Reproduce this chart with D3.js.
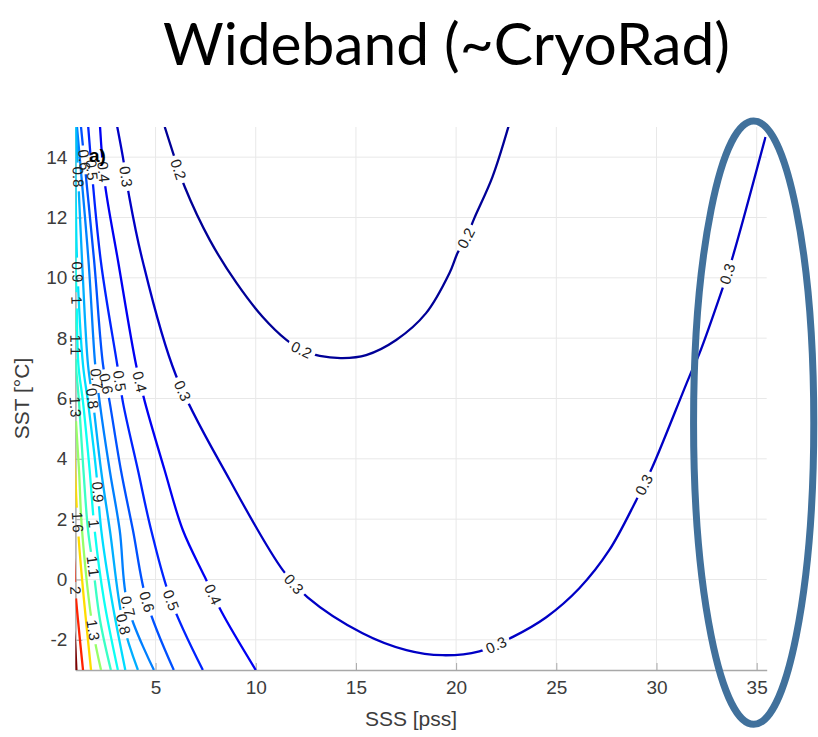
<!DOCTYPE html>
<html><head><meta charset="utf-8">
<script src="https://cdn.jsdelivr.net/npm/d3@7"></script>
<style>html,body{margin:0;padding:0;background:#fff;} svg{display:block;}</style>
</head><body>
<svg id="chart" width="818" height="737"></svg>
<script>
// ---------------- data ----------------
const chartTitle = "Wideband (~CryoRad)";
const xTitle = "SSS [pss]";
const yTitle = "SST [°C]";
const panelTag = "a)";
const xTicks = [5, 10, 15, 20, 25, 30, 35];
const yTicks = [-2, 0, 2, 4, 6, 8, 10, 12, 14];
const sssDomain = [1, 35.5];
const sstDomain = [-3, 15];

// contour polylines: [SSS, SST] pairs
const contour_0_2 = [[5.46,15.0],[5.86,14.17],[6.46,13.01],[7.71,11.25],[9.04,9.83],[10.35,8.70],[11.53,7.94],[12.28,7.61],[13.19,7.41],[14.33,7.34],[15.51,7.44],[17.01,7.94],[18.50,8.83],[19.67,10.16],[20.07,10.82],[20.50,11.32],[20.91,11.98],[21.81,13.34],[22.65,15.1]];
const contour_0_3 = [[3.07,15.07],[3.37,14.0],[3.67,12.75],[4.32,10.66],[6.01,6.78],[8.71,3.29],[11.35,0.31],[12.59,-0.59],[15.33,-1.78],[17.52,-2.34],[19.32,-2.51],[21.16,-2.38],[22.81,-1.91],[24.50,-1.25],[26.15,-0.29],[27.64,0.97],[28.99,2.63],[29.79,3.72],[31.63,6.71],[32.13,7.47],[33.22,9.50],[33.77,10.62],[35.44,14.67]];
const contour_0_4 = [[2.23,15.0],[2.46,13.18],[3.12,10.59],[4.03,7.11],[4.47,5.88],[5.45,3.63],[6.36,1.64],[7.46,0.08],[8.30,-1.08],[10.0,-3.0]];
const contour_0_5 = [[1.64,15.0],[2.26,10.6],[3.09,7.11],[3.37,5.88],[4.12,3.63],[4.78,1.64],[5.77,-0.69],[7.36,-3.0]];
const contour_0_6 = [[1.28,15.0],[1.93,10.6],[2.38,7.11],[2.71,5.88],[3.27,3.63],[3.87,1.64],[4.57,-0.75],[5.91,-3.0]];
const contour_0_7 = [[1.08,15.0],[1.65,10.6],[1.99,7.11],[2.21,5.88],[2.71,3.63],[3.21,1.64],[3.62,-0.89],[4.92,-3.0]];
const contour_0_8 = [[1.03,15.0],[1.33,10.6],[1.63,7.11],[1.88,5.88],[2.28,3.63],[2.72,1.64],[3.37,-1.42],[4.12,-3.0]];
const contour_0_9 = [[0.98,15.0],[1.02,12.5],[1.08,10.6],[1.38,7.11],[1.63,5.88],[2.03,3.63],[2.29,1.64],[2.82,-0.69],[3.49,-3.0]];
const contour_1_0 = [[0.95,12.5],[1.0,10.6],[1.06,9.26],[1.15,7.11],[1.38,5.88],[1.71,3.63],[1.96,1.64],[2.43,-0.69],[3.12,-3.0]];
const contour_1_1 = [[0.92,9.0],[1.0,8.27],[1.03,7.11],[1.18,5.88],[1.40,3.63],[1.63,1.64],[1.88,0.44],[2.23,-1.35],[2.77,-3.0]];
const contour_1_3 = [[0.9,6.5],[0.98,5.9],[1.04,5.12],[1.18,3.63],[1.33,1.64],[1.88,-1.68],[2.28,-3.0]];
const contour_1_6 = [[0.9,4.8],[1.0,3.4],[1.06,2.46],[1.18,1.21],[1.43,-0.69],[1.78,-3.0]];
const contour_2_0 = [[0.88,1.0],[0.95,0.5],[1.0,-0.35],[1.13,-1.35],[1.38,-3.0]];
const contour_2_5 = [[0.88,-1.5],[0.96,-1.9],[1.05,-3.0]];

const levels = [0.2, 0.3, 0.4, 0.5, 0.6, 0.7, 0.8, 0.9, 1, 1.1, 1.3, 1.6, 2, 2.5];
const contourPoints = [contour_0_2, contour_0_3, contour_0_4, contour_0_5, contour_0_6, contour_0_7,
  contour_0_8, contour_0_9, contour_1_0, contour_1_1, contour_1_3, contour_1_6, contour_2_0, contour_2_5];

// inline labels: [level, SSS, SST] (approximate; snapped onto the line)
const contourLabels = [
  [0.2, 6.06, 13.58], [0.2, 12.28, 7.61], [0.2, 20.50, 11.32],
  [0.3, 3.37, 13.34], [0.3, 6.26, 6.23], [0.3, 11.84, -0.19], [0.3, 22.01, -2.18], [0.3, 29.39, 3.13], [0.3, 33.52, 10.13],
  [0.4, 2.43, 13.51], [0.4, 4.07, 6.54], [0.4, 7.76, -0.52],
  [0.5, 1.88, 13.58], [0.5, 3.07, 6.57], [0.5, 5.76, -0.69],
  [0.6, 1.48, 13.91], [0.6, 2.43, 6.48], [0.6, 4.52, -0.75],
  [0.7, 1.98, 6.65], [0.7, 3.62, -0.89],
  [0.8, 1.05, 13.34], [0.8, 1.83, 6.01], [0.8, 3.37, -1.48],
  [0.9, 1.1, 10.19], [0.9, 2.03, 2.90],
  [1, 1.06, 9.26], [1, 2.08, 1.87],
  [1.1, 1.03, 7.78], [1.1, 1.88, 0.44],
  [1.3, 1.0, 5.72], [1.3, 1.88, -1.68],
  [1.6, 1.0, 1.90],
  [2, 1.0, -0.35]
];

// highlight ellipse (data units)
const highlightCenter = [34.85, 5.2];
const highlightRadii = [3.0, 10.0];
const colorRange = [0.15, 2.35];

// ---------------- rendering ----------------
const W = 818, H = 737;
const plot = {left: 75.4, right: 766.7, top: 127, bottom: 670};
const svg = d3.select("#chart");
const x = d3.scaleLinear().domain(sssDomain).range([plot.left, plot.right]);
const y = d3.scaleLinear().domain(sstDomain).range([plot.bottom, plot.top]);

function jet(t) {
  const c = v => Math.max(0, Math.min(1, v));
  const r = c(Math.min(4 * t - 1.5, -4 * t + 4.5));
  const g = c(Math.min(4 * t - 0.5, -4 * t + 3.5));
  const b = c(Math.min(4 * t + 0.5, -4 * t + 2.5));
  return d3.rgb(r * 255, g * 255, b * 255).formatHex();
}
const tScale = d3.scaleLinear().domain(colorRange).range([0, 1]).clamp(true);
const color = v => jet(tScale(v));

const defs = svg.append("defs");
defs.append("clipPath").attr("id", "plotClip").append("rect")
  .attr("x", plot.left).attr("y", plot.top)
  .attr("width", plot.right - plot.left).attr("height", plot.bottom - plot.top);

// title
const titleEl = svg.append("text")
  .attr("x", 446.5).attr("y", 65)
  .attr("text-anchor", "middle")
  .style("font-family", "Lato, 'Open Sans', sans-serif")
  .style("font-size", "60px").attr("fill", "#000")
  .text(chartTitle);
const tw = titleEl.node().getComputedTextLength();
titleEl.style("font-size", (60 * 567 / tw) + "px");

// grid
const grid = svg.append("g");
grid.selectAll("line.gx").data(xTicks).join("line")
  .attr("x1", d => x(d)).attr("x2", d => x(d)).attr("y1", plot.top).attr("y2", plot.bottom)
  .attr("stroke", "#e8e8e8").attr("stroke-width", 1);
grid.selectAll("line.gy").data(yTicks).join("line")
  .attr("y1", d => y(d)).attr("y2", d => y(d)).attr("x1", plot.left).attr("x2", plot.right)
  .attr("stroke", "#e8e8e8").attr("stroke-width", 1);

// axes
const axisColor = "#a8a8a8", tickText = "#3c3c3c";
const gx = svg.append("g").attr("transform", `translate(0,${plot.bottom})`)
  .call(d3.axisBottom(x).tickValues(xTicks).tickSizeInner(-7).tickSizeOuter(0).tickPadding(11).tickFormat(d => String(d)));
const gy = svg.append("g").attr("transform", `translate(${plot.left},0)`)
  .call(d3.axisLeft(y).tickValues(yTicks).tickSizeInner(-7).tickSizeOuter(0).tickPadding(8).tickFormat(d => String(d)));
[gx, gy].forEach(g => {
  g.select(".domain").attr("stroke", axisColor).attr("stroke-width", 1.5);
  g.selectAll(".tick line").attr("stroke", axisColor);
  g.selectAll(".tick text").attr("fill", tickText)
    .style("font-family", "'Liberation Sans', Arial, sans-serif").style("font-size", "19px");
});

// contours
const line = d3.line().x(d => x(d[0])).y(d => y(d[1])).curve(d3.curveCatmullRom.alpha(0.5));
const cg = svg.append("g").attr("clip-path", "url(#plotClip)");
const paths = levels.map((lv, i) => cg.append("path")
  .attr("d", line(contourPoints[i]))
  .attr("fill", "none").attr("stroke", color(lv)).attr("stroke-width", 2.3)
  .attr("stroke-linejoin", "round").attr("stroke-linecap", "butt"));

// masks per level for inline label gaps
const masks = levels.map((lv, i) => {
  const m = defs.append("mask").attr("id", "gap" + i).attr("maskUnits", "userSpaceOnUse")
    .attr("x", 0).attr("y", 0).attr("width", W).attr("height", H);
  m.append("rect").attr("x", 0).attr("y", 0).attr("width", W).attr("height", H).attr("fill", "#fff");
  return m;
});

const lg = svg.append("g");
contourLabels.forEach(([lv, sx, sy]) => {
  const i = levels.indexOf(lv);
  const node = paths[i].node();
  const total = node.getTotalLength();
  const tx = x(sx), ty = y(sy);
  let best = 0, bestD = Infinity;
  for (let l = 0; l <= total; l += 0.5) {
    const p = node.getPointAtLength(l);
    const d = (p.x - tx) ** 2 + (p.y - ty) ** 2;
    if (d < bestD) { bestD = d; best = l; }
  }
  const p = node.getPointAtLength(best);
  const p1 = node.getPointAtLength(Math.max(0, best - 6));
  const p2 = node.getPointAtLength(Math.min(total, best + 6));
  let ang = Math.atan2(p2.y - p1.y, p2.x - p1.x) * 180 / Math.PI;
  if (ang > 90) ang -= 180;
  if (ang <= -90) ang += 180;
  const t = lg.append("text")
    .attr("transform", `translate(${p.x},${p.y}) rotate(${ang})`)
    .attr("text-anchor", "middle").attr("dy", "0.35em")
    .style("font-family", "'Liberation Sans', Arial, sans-serif").style("font-size", "15px")
    .attr("fill", "#222").text(String(lv));
  const w = t.node().getComputedTextLength();
  masks[i].append("rect")
    .attr("x", -w / 2 - 4).attr("y", -7).attr("width", w + 8).attr("height", 14)
    .attr("transform", `translate(${p.x},${p.y}) rotate(${ang})`).attr("fill", "#000");
});
paths.forEach((pth, i) => pth.attr("mask", `url(#gap${i})`));

// panel tag
svg.append("text").attr("x", 89).attr("y", 162)
  .style("font-family", "'Liberation Sans', Arial, sans-serif").style("font-size", "19px").style("font-weight", "bold")
  .attr("fill", "#000").text(panelTag);

// axis titles
svg.append("text").attr("x", 411).attr("y", 726).attr("text-anchor", "middle")
  .style("font-family", "'Liberation Sans', Arial, sans-serif").style("font-size", "21px")
  .attr("fill", tickText).text(xTitle);
svg.append("text").attr("transform", `translate(29,${(plot.top + plot.bottom) / 2}) rotate(-90)`)
  .attr("text-anchor", "middle")
  .style("font-family", "'Liberation Sans', Arial, sans-serif").style("font-size", "21px")
  .attr("fill", tickText).text(yTitle);

// highlight ellipse
svg.append("ellipse")
  .attr("cx", x(highlightCenter[0])).attr("cy", y(highlightCenter[1]))
  .attr("rx", x(highlightCenter[0] + highlightRadii[0]) - x(highlightCenter[0]))
  .attr("ry", y(highlightCenter[1]) - y(highlightCenter[1] + highlightRadii[1]))
  .attr("fill", "none").attr("stroke", "#41719c").attr("stroke-width", 7);
</script>
</body></html>
